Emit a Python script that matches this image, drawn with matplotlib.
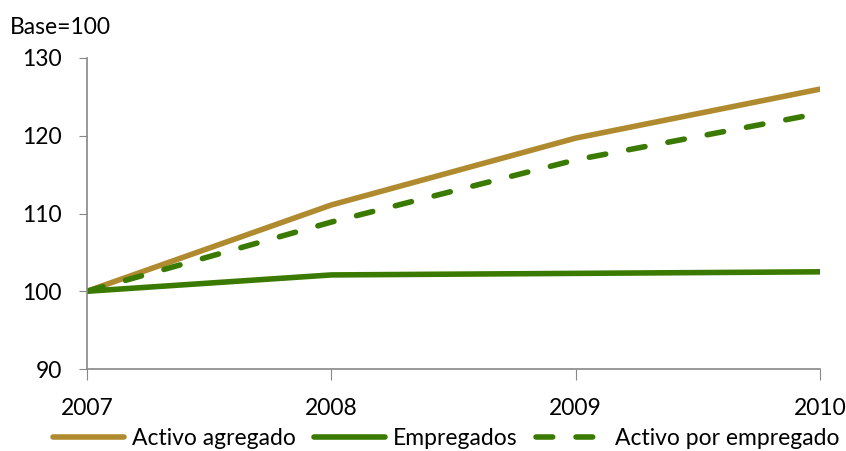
import matplotlib.pyplot as plt

years = [2007, 2008, 2009, 2010]
activo_agregado = [100, 111.1, 119.7, 126.0]
empregados = [100, 102.1, 102.3, 102.5]
activo_por_empregado = [100, 108.9, 116.9, 122.9]

gold = '#B08A2E'
green = '#3A7A00'

plt.rcParams['font.family'] = ['Lato', 'DejaVu Sans']
plt.rcParams['font.size'] = 16.5

fig = plt.figure(figsize=(8.46, 4.51), dpi=100)
ax = fig.add_axes([0.1028, 0.1818, 0.8666, 0.6896])

ax.plot(years, activo_agregado, color=gold, lw=4, solid_capstyle='round', label='Activo agregado')
ax.plot(years, empregados, color=green, lw=4, solid_capstyle='round', label='Empregados')
ax.plot(years, activo_por_empregado, color=green, lw=4, dashes=(3.0, 4.2),
        dash_capstyle='round', label='Activo por empregado')

ax.set_xlim(2007, 2010)
ax.set_ylim(90, 130)
ax.set_xticks(years)
ax.set_yticks([90, 100, 110, 120, 130])
for s in ['top', 'right']:
    ax.spines[s].set_visible(False)
for s in ['left', 'bottom']:
    ax.spines[s].set_color('#888888')
    ax.spines[s].set_linewidth(1.2)
ax.tick_params(axis='y', length=6, color='#888888', pad=12)
ax.tick_params(axis='x', length=8, color='#888888', pad=13)

fig.text(0.012, 0.925, 'Base=100', fontsize=16.5)

leg = ax.legend(loc='upper center', bbox_to_anchor=(0.49, -0.16), ncol=3, frameon=False,
                handlelength=3.1, handletextpad=0.35, columnspacing=0.8, borderaxespad=0)

plt.savefig('out.png', dpi=100)
